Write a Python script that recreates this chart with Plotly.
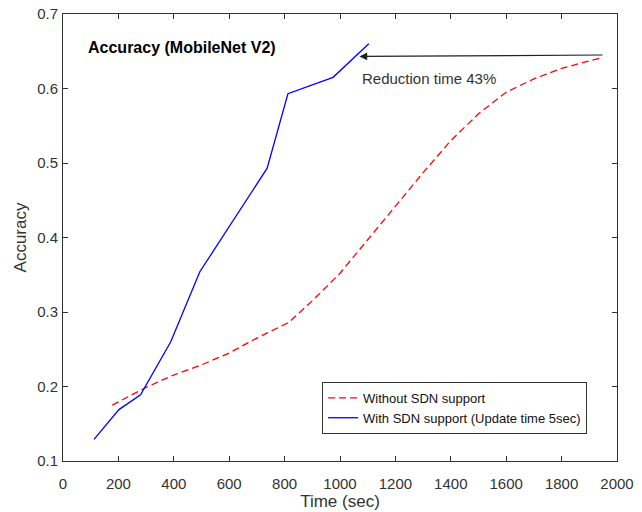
import plotly.graph_objects as go

# Data
t_without = [178, 290, 390, 500, 600, 700, 815, 900, 1000, 1100, 1200, 1300, 1400, 1500, 1600, 1700, 1800, 1950]
acc_without = [0.175, 0.197, 0.214, 0.229, 0.245, 0.265, 0.286, 0.315, 0.352, 0.397, 0.441, 0.487, 0.530, 0.566, 0.595, 0.613, 0.627, 0.642]

t_with = [112, 202, 280, 389, 494, 602, 737, 812, 975, 1104]
acc_with = [0.129, 0.169, 0.189, 0.260, 0.354, 0.416, 0.493, 0.593, 0.615, 0.660]

x_ticks = [0, 200, 400, 600, 800, 1000, 1200, 1400, 1600, 1800, 2000]
y_ticks = [0.1, 0.2, 0.3, 0.4, 0.5, 0.6, 0.7]

name_without = "Without SDN support"
name_with = "With SDN support (Update time 5sec)"
title_text = "Accuracy (MobileNet V2)"
arrow_text = "Reduction time 43%"

FONT = "Liberation Sans, Arial, sans-serif"
TXT = "#333333"

fig = go.Figure()
fig.add_trace(go.Scatter(
    x=t_without, y=acc_without, mode="lines", name=name_without,
    line=dict(color="#ff0000", width=1.3, dash="7px,4px"),
))
fig.add_trace(go.Scatter(
    x=t_with, y=acc_with, mode="lines", name=name_with,
    line=dict(color="#0000ff", width=1.3),
))

# Arrow
fig.add_annotation(
    x=1070, y=0.643, ax=1953, ay=0.645,
    xref="x", yref="y", axref="x", ayref="y",
    text="", showarrow=True, arrowhead=2, arrowsize=1.3, arrowwidth=1.2,
    arrowcolor="#222222",
)
fig.add_annotation(
    x=1321, y=0.613, xref="x", yref="y", text=arrow_text, showarrow=False,
    font=dict(family=FONT, size=15, color=TXT),
)
fig.add_annotation(
    x=83, y=0.655, xref="x", yref="y", text="<b>" + title_text + "</b>",
    showarrow=False, xanchor="left",
    font=dict(family=FONT, size=16, color="#000000"),
)

axis_common = dict(
    showgrid=False, zeroline=False, showline=True, linecolor="#333333", linewidth=1,
    mirror="ticks", ticks="inside", ticklen=5, tickcolor="#333333",
    tickfont=dict(family=FONT, size=15, color=TXT), automargin=False,
    ticklabeloverflow="allow",
)
fig.update_xaxes(
    range=[0, 2000], tickvals=x_ticks, ticktext=[str(v) for v in x_ticks],
    title=dict(text="Time (sec)", font=dict(family=FONT, size=17, color=TXT), standoff=4),
    ticklabelstandoff=9,
    **axis_common,
)
fig.update_yaxes(
    range=[0.1, 0.7], tickvals=y_ticks, ticktext=[f"{v:.1f}" for v in y_ticks],
    title=dict(text="Accuracy", font=dict(family=FONT, size=17, color=TXT), standoff=6),
    ticklabelstandoff=1,
    **axis_common,
)

fig.update_layout(
    width=642, height=512,
    margin=dict(l=63, r=25, t=14, b=51),
    paper_bgcolor="white", plot_bgcolor="white",
    font=dict(family=FONT, color=TXT),
    hovermode=False,
    legend=dict(
        x=0.946, y=0.177, xanchor="right", yanchor="top",
        bordercolor="#333333", borderwidth=1, bgcolor="white",
        font=dict(family=FONT, size=13, color="#111111"),
        tracegroupgap=0,
    ),
)

fig.write_html(
    "out.html",
    config={"displayModeBar": False},
    post_script="document.body.style.margin='0';",
)
